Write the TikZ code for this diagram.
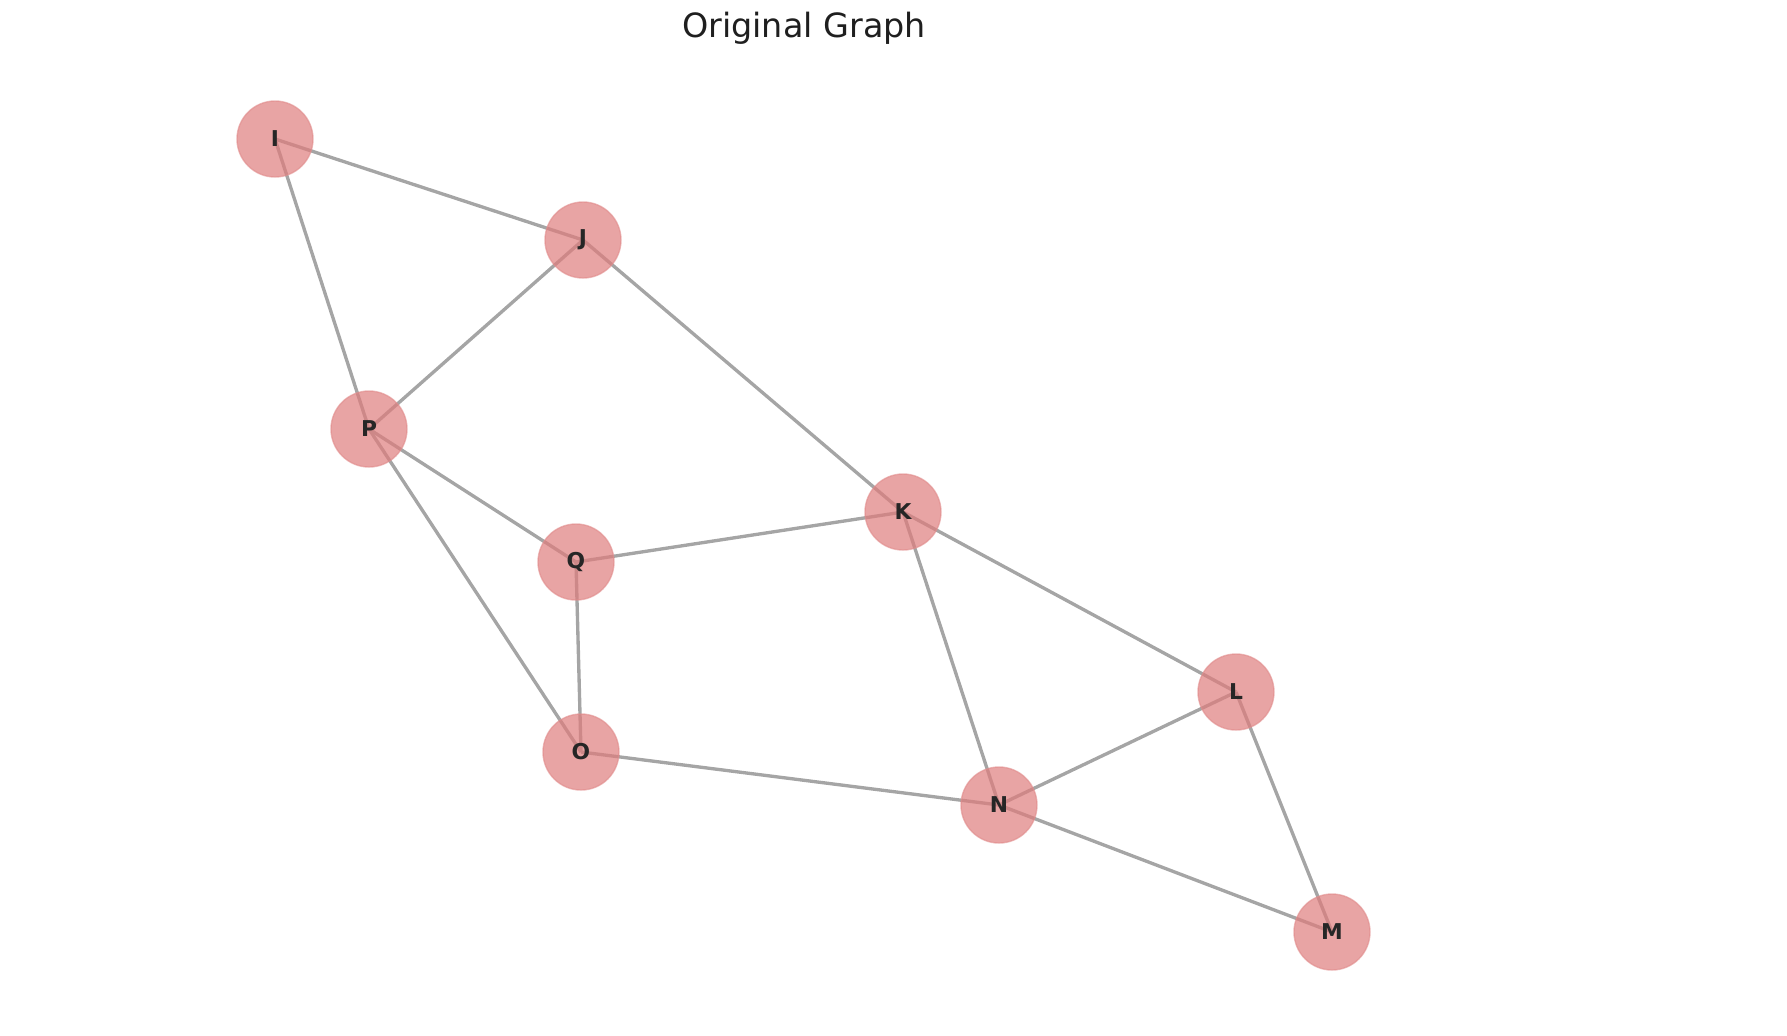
\documentclass[tikz,border=0pt]{standalone}
\usepackage{fontspec}
\setmainfont{DejaVu Sans}
\definecolor{nodefill}{RGB}{222,125,125}
\definecolor{nodeline}{RGB}{225,140,140}
\definecolor{edgegray}{RGB}{165,165,165}
\tikzset{
  vertex/.style={circle, minimum size=0.76cm, inner sep=0pt, fill=nodefill, fill opacity=0.7, text opacity=1, draw=nodeline, draw opacity=0.6, line width=0.4pt, font=\fontsize{6.2}{7}\selectfont\bfseries, text=black!85},
  edge/.style={draw=edgegray, line width=0.95pt}
}
\begin{document}
\begin{tikzpicture}[x=0.01cm, y=-0.01cm]
\useasboundingbox (0,0) rectangle (1787,1035);
\node[font=\fontsize{9.5}{11}\selectfont, text=black!88] (title) at (804,28) {Original Graph};

% positions of the graph nodes
\coordinate (pI) at (275,139);
\coordinate (pJ) at (583,240);
\coordinate (pP) at (369,429);
\coordinate (pK) at (903,512);
\coordinate (pQ) at (576,562);
\coordinate (pL) at (1236,692);
\coordinate (pO) at (581,752);
\coordinate (pN) at (999,805);
\coordinate (pM) at (1332,932);

% edges
\foreach \a/\b in {I/J, I/P, J/P, J/K, P/Q, P/O, Q/K, Q/O, K/L, K/N, O/N, N/L, N/M, L/M}
  \draw[edge] (p\a) -- (p\b);

% nodes
\foreach \n in {I,J,K,L,M,N,O,P,Q}
  \node[vertex] (\n) at (p\n) {\n};
\end{tikzpicture}
\end{document}
